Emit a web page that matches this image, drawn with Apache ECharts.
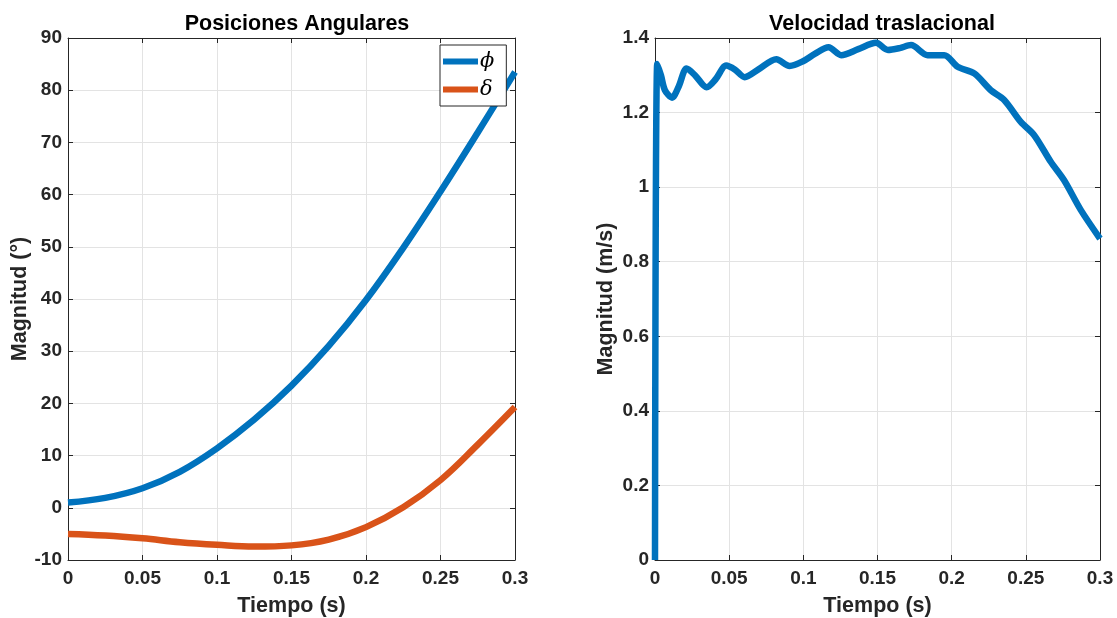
<!DOCTYPE html>
<html>
<head>
<meta charset="utf-8">
<script src="https://cdn.jsdelivr.net/npm/echarts@6/dist/echarts.min.js"></script>
<style>
html,body{margin:0;padding:0;background:#fff;}
#c{width:1117px;height:618px;}
</style>
</head>
<body>
<div id="c"></div>
<script>
// ---- data ----
const titles = ['Posiciones Angulares', 'Velocidad traslacional'];
const xName = 'Tiempo (s)';
const yNames = ['Magnitud (°)', 'Magnitud (m/s)'];
const seriesNames = ['ϕ', 'δ'];

const tAng = [0, 0.025, 0.05, 0.075, 0.1, 0.125, 0.15, 0.175, 0.2, 0.225, 0.25, 0.275, 0.3];
const phi = [1.0, 1.9, 3.75, 6.9, 11.4, 16.9, 23.4, 31.0, 39.8, 49.8, 60.6, 71.9, 83.5];
const delta = [-5.0, -5.3, -5.85, -6.6, -7.1, -7.43, -7.2, -6.1, -3.7, 0.1, 5.3, 12.1, 19.3];

const tVel = [0, 0.0015, 0.004, 0.0067, 0.0115, 0.016, 0.0213, 0.027, 0.0348, 0.041, 0.048, 0.054, 0.0605, 0.0695, 0.0818, 0.0908, 0.0995, 0.108, 0.117, 0.1255, 0.137, 0.149, 0.157, 0.165, 0.1726, 0.1838, 0.195, 0.204, 0.2152, 0.2264, 0.2354, 0.2466, 0.2555, 0.2668, 0.2757, 0.287, 0.3];
const vel = [0, 1.33, 1.30, 1.26, 1.24, 1.27, 1.318, 1.30, 1.268, 1.29, 1.326, 1.315, 1.295, 1.315, 1.343, 1.325, 1.337, 1.358, 1.375, 1.354, 1.37, 1.387, 1.368, 1.373, 1.381, 1.354, 1.354, 1.323, 1.305, 1.26, 1.234, 1.175, 1.14, 1.068, 1.019, 0.939, 0.862];

const xRange = {min: 0, max: 0.3, interval: 0.05};
const yRanges = [{min: -10, max: 90, interval: 10}, {min: 0, max: 1.4, interval: 0.2}];

// ---- styles ----
const FONT = '"Liberation Sans", Arial, Helvetica, sans-serif';
const AX = '#262626';
const GRIDC = '#e3e3e3';
const BLUE = '#0072BD';
const ORANGE = '#D95319';

const pair = (xs, ys) => xs.map((x, i) => [x, ys[i]]);
const fmt = v => String(+v.toFixed(2));

const grids = [
  {left: 68, right: 602, top: 38, bottom: 58, containLabel: false, outerBoundsMode: 'none'},
  {left: 655, right: 17, top: 38, bottom: 58, containLabel: false, outerBoundsMode: 'none'}
];

const xAxes = [], yAxes = [];
[0, 1].forEach(g => {
  const common = {
    type: 'value', gridIndex: g, min: xRange.min, max: xRange.max, interval: xRange.interval,
    axisLine: {show: true, onZero: false, lineStyle: {color: AX, width: 1}},
    axisTick: {show: true, inside: true, length: 5, lineStyle: {color: AX}},
  };
  xAxes.push(Object.assign({}, common, {
    position: 'bottom',
    name: xName, nameLocation: 'middle', nameGap: 35,
    nameTextStyle: {fontFamily: FONT, fontWeight: 'bold', fontSize: 21.5, color: AX},
    axisLabel: {formatter: fmt, fontFamily: FONT, fontWeight: 'bold', fontSize: 19, color: AX, margin: 9},
    splitLine: {show: true, lineStyle: {color: GRIDC, width: 1}}
  }));
  xAxes.push(Object.assign({}, common, {
    position: 'top', axisLabel: {show: false}, splitLine: {show: false}
  }));
  const yr = yRanges[g];
  const ycommon = {
    type: 'value', gridIndex: g, min: yr.min, max: yr.max, interval: yr.interval,
    axisLine: {show: true, onZero: false, lineStyle: {color: AX, width: 1}},
    axisTick: {show: true, inside: true, length: 5, lineStyle: {color: AX}},
  };
  yAxes.push(Object.assign({}, ycommon, {
    position: 'left',
    name: yNames[g], nameLocation: 'middle', nameGap: g === 0 ? 37 : 38, nameRotate: 90,
    nameTextStyle: {fontFamily: FONT, fontWeight: 'bold', fontSize: 21.5, color: AX},
    axisLabel: {formatter: fmt, fontFamily: FONT, fontWeight: 'bold', fontSize: 19, color: AX, margin: 6},
    splitLine: {show: true, lineStyle: {color: GRIDC, width: 1}}
  }));
  yAxes.push(Object.assign({}, ycommon, {
    position: 'right', axisLabel: {show: false}, splitLine: {show: false}
  }));
});

const option = {
  animation: false,
  backgroundColor: '#fff',
  title: [
    {text: titles[0], left: 292, top: 8, textAlign: 'center',
     textStyle: {fontFamily: FONT, fontWeight: 'bold', fontSize: 21.5, color: '#000'}},
    {text: titles[1], left: 877, top: 8, textAlign: 'center',
     textStyle: {fontFamily: FONT, fontWeight: 'bold', fontSize: 21.5, color: '#000'}}
  ],
  legend: {
    orient: 'vertical', left: 440, top: 45,
    data: seriesNames,
    icon: 'rect', itemWidth: 35, itemHeight: 6, itemGap: 7,
    padding: [6, 12, 6, 3],
    backgroundColor: '#fff', borderColor: AX, borderWidth: 1, borderRadius: 0,
    textStyle: {fontFamily: '"DejaVu Serif", "Liberation Serif", serif', fontStyle: 'italic', fontSize: 21, color: '#000', padding: [0, 0, 0, -3]}
  },
  grid: grids,
  xAxis: xAxes,
  yAxis: yAxes,
  series: [
    {name: seriesNames[0], type: 'line', xAxisIndex: 0, yAxisIndex: 0, data: pair(tAng, phi),
     smooth: 0.4, showSymbol: false, lineStyle: {color: BLUE, width: 6.5}, itemStyle: {color: BLUE}},
    {name: seriesNames[1], type: 'line', xAxisIndex: 0, yAxisIndex: 0, data: pair(tAng, delta),
     smooth: 0.4, showSymbol: false, lineStyle: {color: ORANGE, width: 6.5}, itemStyle: {color: ORANGE}},
    {name: 'vel', type: 'line', xAxisIndex: 2, yAxisIndex: 2, data: pair(tVel, vel),
     smooth: 0.3, showSymbol: false, lineStyle: {color: BLUE, width: 6.5}, itemStyle: {color: BLUE}}
  ]
};

const chart = echarts.init(document.getElementById('c'), null, {renderer: 'canvas'});
chart.setOption(option);
</script>
</body>
</html>
